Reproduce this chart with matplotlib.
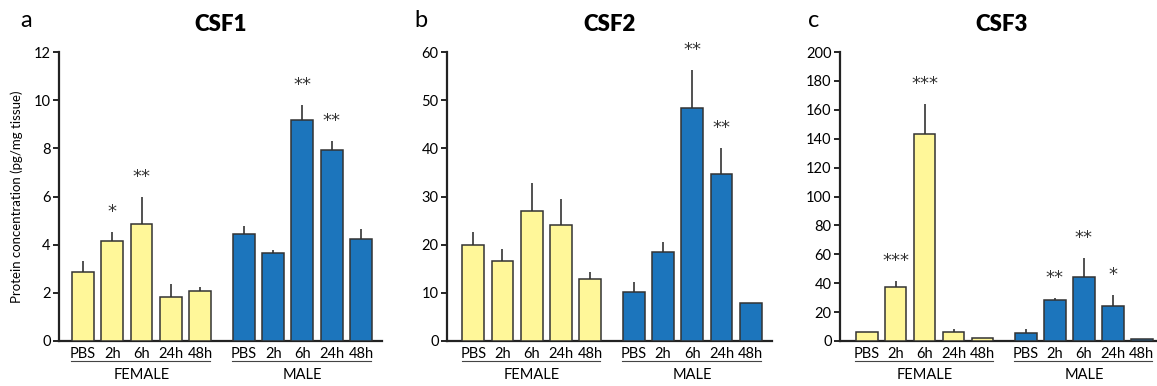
import matplotlib
matplotlib.use('Agg')
import matplotlib.pyplot as plt
import matplotlib.transforms as mtransforms
import numpy as np

plt.rcParams['font.family'] = ['Lato', 'DejaVu Sans']

# data
times = ['PBS', '2h', '6h', '24h', '48h']
groups = ['FEMALE', 'MALE']

csf1_female = [2.88, 4.17, 4.85, 1.83, 2.09]
csf1_female_err = [0.46, 0.35, 1.12, 0.54, 0.14]
csf1_male = [4.45, 3.64, 9.18, 7.92, 4.22]
csf1_male_err = [0.31, 0.14, 0.63, 0.39, 0.43]
csf1_female_sig = ['', '*', '**', '', '']
csf1_male_sig = ['', '', '**', '**', '']

csf2_female = [19.9, 16.7, 27.0, 24.0, 12.9]
csf2_female_err = [2.8, 2.3, 5.8, 5.5, 1.5]
csf2_male = [10.1, 18.5, 48.3, 34.7, 7.8]
csf2_male_err = [2.1, 2.1, 8.0, 5.4, 0.0]
csf2_female_sig = ['', '', '', '', '']
csf2_male_sig = ['', '', '**', '**', '']

csf3_female = [6.5, 37.7, 143.4, 6.0, 1.8]
csf3_female_err = [0.0, 3.9, 20.5, 2.3, 0.0]
csf3_male = [5.8, 28.4, 44.6, 24.0, 1.4]
csf3_male_err = [2.5, 1.4, 12.5, 7.7, 0.0]
csf3_female_sig = ['', '***', '***', '', '']
csf3_male_sig = ['', '**', '**', '*', '']

panels = [
    ('a', 'CSF1', csf1_female, csf1_female_err, csf1_male, csf1_male_err,
     csf1_female_sig, csf1_male_sig, 12, 2),
    ('b', 'CSF2', csf2_female, csf2_female_err, csf2_male, csf2_male_err,
     csf2_female_sig, csf2_male_sig, 60, 10),
    ('c', 'CSF3', csf3_female, csf3_female_err, csf3_male, csf3_male_err,
     csf3_female_sig, csf3_male_sig, 200, 20),
]

yellow = '#FFF799'
blue = '#1C75BC'
edge = '#333333'

W, H = 1157, 386
fig = plt.figure(figsize=(W / 100, H / 100), dpi=100)

# axes placement in pixels: (left spine x, xlim left, xlim right, width px)
layout = [(59, -0.82, 10.22, 323), (447, -0.90, 10.23, 325), (840, -0.92, 10.23, 323)]
bottom_px, top_px = 341, 52

xf = np.arange(5)
xm = np.arange(5) + 5.5
width = 0.75

for (letter, name, fv, fe, mv, me, fs, ms, ymax, ystep), (lpx, x0, x1, wpx) in zip(panels, layout):
    ax = fig.add_axes([lpx / W, (H - bottom_px) / H, wpx / W, (bottom_px - top_px) / H])
    ax.bar(xf, fv, width, color=yellow, edgecolor=edge, linewidth=1.1, zorder=3)
    ax.bar(xm, mv, width, color=blue, edgecolor=edge, linewidth=1.1, zorder=3)
    for xs, vals, errs in [(xf, fv, fe), (xm, mv, me)]:
        ax.errorbar(xs, vals, yerr=[np.zeros(5), errs], fmt='none', ecolor=edge,
                    elinewidth=1.2, capsize=0, zorder=2)
    for xs, vals, errs, sig in [(xf, fv, fe, fs), (xm, mv, me, ms)]:
        for x, v, e, s in zip(xs, vals, errs, sig):
            if s:
                ax.annotate(s, (x, v + e), xytext=(0, 8), textcoords='offset points',
                            ha='center', va='bottom', fontsize=13, color='#333333',
                            family='DejaVu Sans')

    ax.set_xlim(x0, x1)
    ax.set_ylim(0, ymax)
    ax.set_yticks(np.arange(0, ymax + ystep / 2, ystep))
    ax.set_xticks(np.concatenate([xf, xm]))
    ax.set_xticklabels(times + times)
    ax.tick_params(axis='x', length=0, pad=4, labelsize=10.5)
    ax.tick_params(axis='y', direction='out', length=4, width=1.2, pad=2, labelsize=10.5)
    for side in ['top', 'right']:
        ax.spines[side].set_visible(False)
    for side in ['left', 'bottom']:
        ax.spines[side].set_linewidth(1.6)
        ax.spines[side].set_color('#222222')
    ax.spines['left'].set_bounds(0, ymax)

    trans = mtransforms.blended_transform_factory(ax.transData, ax.transAxes)
    for xs, g in [(xf, groups[0]), (xm, groups[1])]:
        ax.plot([xs[0] - 0.4, xs[-1] + 0.35], [-0.069, -0.069], transform=trans,
                color='#444444', linewidth=0.8, clip_on=False)
        ax.text(xs.mean(), -0.118, g, transform=trans, ha='center', va='center',
                fontsize=10.5)

    ax.text(-0.12 if letter == 'a' else -0.1, 1.11, letter, transform=ax.transAxes,
            fontsize=17, va='center', ha='left')
    ax.set_title(name, fontsize=16, fontweight='heavy', pad=15)
    if letter == 'a':
        ax.set_ylabel('Protein concentration (pg/mg tissue)', fontsize=9.5, labelpad=8)

fig.savefig('out.png', dpi=100)
